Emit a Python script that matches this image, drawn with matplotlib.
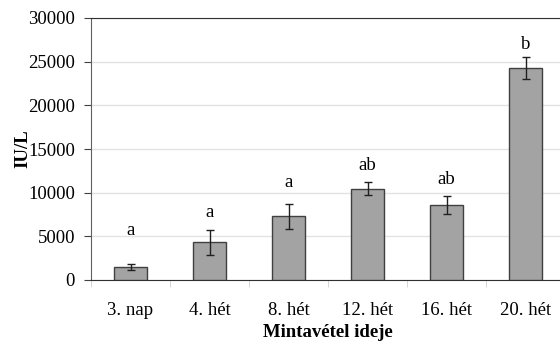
import numpy as np
import matplotlib.pyplot as plt

# Adatok
categories = ['3. nap', '4. hét', '8. hét', '12. hét', '16. hét', '20. hét']
means = [1500, 4300, 7300, 10450, 8550, 24250]
errors = [350, 1450, 1430, 750, 1030, 1280]
letters = ['a', 'a', 'a', 'ab', 'ab', 'b']
letter_y = [5700, 7700, 11200, 13100, 11550, 27000]

plt.rcParams['font.family'] = ['Liberation Serif', 'DejaVu Serif']

fig = plt.figure(figsize=(5.6, 3.42), dpi=100)
ax = fig.add_axes([91 / 560, (342 - 280) / 342, (565 - 91) / 560, (280 - 18) / 342])

x = np.arange(len(categories))
ax.bar(x, means, width=0.41, color='#a3a3a3', edgecolor='#404040',
       linewidth=1.0, zorder=3)
ax.errorbar(x, means, yerr=errors, fmt='none', ecolor='#202020',
            elinewidth=1.0, capsize=3, capthick=1.0, zorder=4)

for xi, lab, ly in zip(x, letters, letter_y):
    ax.text(xi, ly, lab, ha='center', va='center', fontsize=13.5)

ax.set_xlim(-0.5, len(categories) - 0.5)
ax.set_ylim(0, 30000)
ax.set_yticks(np.arange(0, 30001, 5000))
ax.yaxis.grid(True, color='#e3e3e3', linewidth=1.0, zorder=0)
ax.set_axisbelow(True)

# kategóriahatárok a tengely alatt
ax.set_xticks(x)
ax.set_xticklabels(categories, fontsize=13.5)
ax.tick_params(axis='x', length=0, pad=15.5)
ax.set_xticks(np.arange(-0.5, len(categories), 1.0), minor=True)
ax.tick_params(axis='x', which='minor', length=5, color='#d0d0d0')
ax.tick_params(axis='y', labelsize=13.5, length=5, pad=6.5,
               color='#404040', direction='out')

ax.spines['right'].set_visible(False)
ax.spines['top'].set_color('#303030')
ax.spines['left'].set_color('#606060')
ax.spines['bottom'].set_color('#303030')

ax.set_ylabel('IU/L', fontsize=13.5, fontweight='bold', labelpad=-2)
ax.set_xlabel('Mintavétel ideje', fontsize=13.5, fontweight='bold', labelpad=4)

fig.savefig('out.png', dpi=100)
